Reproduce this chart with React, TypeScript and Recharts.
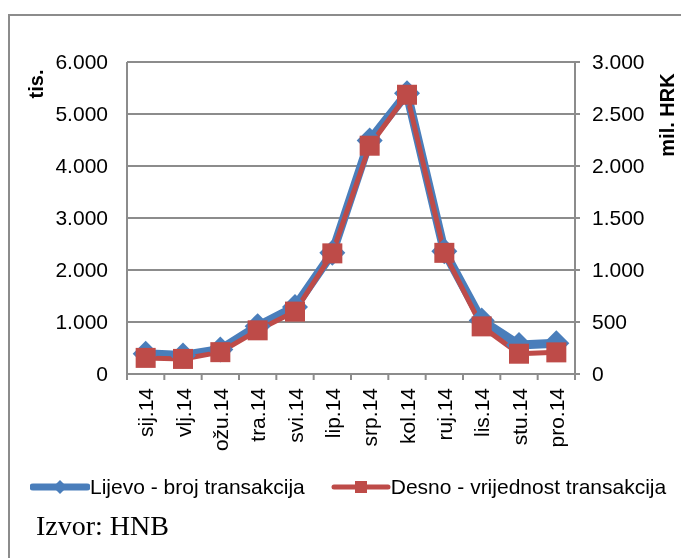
import * as React from "react";
import {
  LineChart,
  Line,
  XAxis,
  YAxis,
  CartesianGrid,
} from "recharts";

// mjeseci 2014.
const months = [
  "sij.14", "vlj.14", "ožu.14", "tra.14", "svi.14", "lip.14",
  "srp.14", "kol.14", "ruj.14", "lis.14", "stu.14", "pro.14",
];
// lijevo - broj transakcija (tis.)
const brojTransakcija = [390, 355, 470, 920, 1290, 2330, 4490, 5400, 2360, 1030, 560, 590];
// desno - vrijednost transakcija (mil. HRK)
const vrijednostTransakcija = [155, 145, 210, 420, 600, 1160, 2195, 2685, 1165, 458, 195, 208];

const leftTicks = [0, 1000, 2000, 3000, 4000, 5000, 6000];
const rightTicks = [0, 500, 1000, 1500, 2000, 2500, 3000];

const data = months.map((m, i) => ({
  m,
  broj: brojTransakcija[i],
  vrijednost: vrijednostTransakcija[i],
}));

const BLUE = "#4A7EBB";
const RED = "#BE4B48";
const GRID = "#8C8C8C";
const FONT = "'Liberation Sans', Arial, sans-serif";

const fmt = (n: number) => String(n).replace(/\B(?=(\d{3})+(?!\d))/g, ".");

const W = 681;
const H = 460;
const PLOT_LEFT = 127;
const PLOT_RIGHT = 575;
const step = (PLOT_RIGHT - PLOT_LEFT) / months.length;

const MonthTick = (props: any) => {
  const { x, y, payload, index } = props;
  const axisY = y - 14;
  return (
    <g>
      <line x1={x - step / 2} x2={x - step / 2} y1={axisY} y2={axisY + 6} stroke={GRID} strokeWidth={2} />
      {index === months.length - 1 && (
        <line x1={x + step / 2} x2={x + step / 2} y1={axisY} y2={axisY + 6} stroke={GRID} strokeWidth={2} />
      )}
      <text
        transform={`translate(${x},${y}) rotate(-90)`}
        textAnchor="end"
        dy="0.36em"
        fontSize={21}
        fontFamily={FONT}
        fill="#000"
      >
        {payload.value}
      </text>
    </g>
  );
};

const Diamond = (props: any) => {
  const { cx, cy } = props;
  if (cx == null || cy == null) return null;
  const r = 13;
  return (
    <polygon
      points={`${cx},${cy - r} ${cx + r},${cy} ${cx},${cy + r} ${cx - r},${cy}`}
      fill={BLUE}
    />
  );
};

const Square = (props: any) => {
  const { cx, cy } = props;
  if (cx == null || cy == null) return null;
  return <rect x={cx - 10} y={cy - 10} width={20} height={20} fill={RED} />;
};

const App: React.FC = () => {
  return (
    <div style={{ fontFamily: FONT }}>
      <div
        style={{
          position: "fixed",
          left: 8,
          top: 14,
          width: 673,
          height: 544,
          borderLeft: `2px solid ${GRID}`,
          borderTop: `2px solid ${GRID}`,
          boxSizing: "border-box",
        }}
      />
      <div style={{ position: "fixed", left: 0, top: 0, width: W, height: H }}>
        <LineChart width={W} height={H} data={data} margin={{ top: 62, right: 0, left: 0, bottom: 0 }}>
          <CartesianGrid yAxisId="l" vertical={false} stroke={GRID} strokeWidth={2} />
          <XAxis
            dataKey="m"
            height={86}
            interval={0}
            padding={{ left: step / 2, right: step / 2 }}
            axisLine={{ stroke: GRID, strokeWidth: 2 }}
            tickLine={false}
            tickSize={6}
            tickMargin={8}
            tick={<MonthTick />}
          />
          <YAxis
            yAxisId="l"
            width={PLOT_LEFT}
            domain={[0, 6000]}
            ticks={leftTicks}
            tickFormatter={fmt}
            axisLine={{ stroke: GRID, strokeWidth: 2 }}
            tickLine={false}
            tickSize={0}
            tickMargin={19}
            tick={{ fill: "#000", fontSize: 21, fontFamily: FONT }}
            label={{
              content: ({ viewBox }: any) => (
                <text
                  transform={`translate(${viewBox.x + 36},${viewBox.y + 22}) rotate(-90)`}
                  textAnchor="middle"
                  dy="0.36em"
                  fontSize={20}
                  fontWeight="bold"
                  fontFamily={FONT}
                  fill="#000"
                >
                  tis.
                </text>
              ),
            }}
          />
          <YAxis
            yAxisId="r"
            orientation="right"
            width={W - PLOT_RIGHT}
            domain={[0, 3000]}
            ticks={rightTicks}
            tickFormatter={fmt}
            axisLine={{ stroke: GRID, strokeWidth: 2 }}
            tickLine={{ stroke: GRID, strokeWidth: 2 }}
            tickSize={5}
            tickMargin={12}
            tick={{ fill: "#000", fontSize: 21, fontFamily: FONT }}
            label={{
              content: ({ viewBox }: any) => (
                <text
                  transform={`translate(${viewBox.x + 92},${viewBox.y + 53}) rotate(-90)`}
                  textAnchor="middle"
                  dy="0.36em"
                  fontSize={20}
                  fontWeight="bold"
                  fontFamily={FONT}
                  fill="#000"
                >
                  mil. HRK
                </text>
              ),
            }}
          />
          <Line
            yAxisId="l"
            dataKey="broj"
            stroke={BLUE}
            strokeWidth={9}
            strokeLinejoin="round"
            dot={<Diamond />}
            activeDot={false}
            isAnimationActive={false}
          />
          <Line
            yAxisId="r"
            dataKey="vrijednost"
            stroke={RED}
            strokeWidth={5}
            strokeLinejoin="round"
            dot={<Square />}
            activeDot={false}
            isAnimationActive={false}
          />
        </LineChart>
      </div>
      <div
        style={{
          position: "fixed",
          left: 30,
          top: 474,
          display: "flex",
          alignItems: "center",
          fontSize: 21,
          whiteSpace: "nowrap",
        }}
      >
        <svg width={60} height={26}>
          <line x1={3} x2={57} y1={13} y2={13} stroke={BLUE} strokeWidth={7} strokeLinecap="round" />
          <polygon points="30,6 37,13 30,20 23,13" fill={BLUE} />
        </svg>
        <span>Lijevo - broj transakcija</span>
        <svg width={60} height={26} style={{ marginLeft: 26 }}>
          <line x1={3} x2={57} y1={13} y2={13} stroke={RED} strokeWidth={5} strokeLinecap="round" />
          <rect x={24} y={7} width={12} height={12} fill={RED} />
        </svg>
        <span>Desno - vrijednost transakcija</span>
      </div>
      <div
        style={{
          position: "fixed",
          left: 36,
          top: 510,
          fontFamily: "'Liberation Serif', 'Times New Roman', serif",
          fontSize: 28,
        }}
      >
        Izvor: HNB
      </div>
    </div>
  );
};

export default App;
